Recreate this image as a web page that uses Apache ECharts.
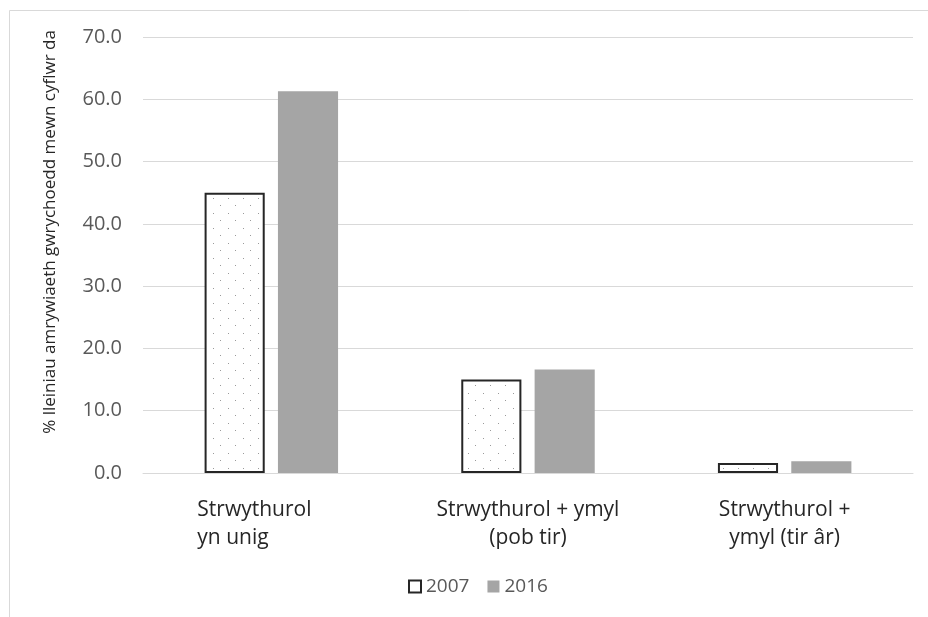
<!DOCTYPE html>
<html>
<head>
<meta charset="utf-8">
<script src="https://cdn.jsdelivr.net/npm/echarts@6/dist/echarts.min.js"></script>
<style>
  html, body { margin: 0; padding: 0; background: #fff; }
  #chart { width: 928px; height: 617px; }
</style>
</head>
<body>
<div id="chart"></div>
<script>
// Categories, series and axis setup
const categories = ['Strwythurol yn unig', 'Strwythurol + ymyl (pob tir)', 'Strwythurol + ymyl (tir âr)'];
const categoryLines = [
  ['Strwythurol', 'yn unig'],
  ['Strwythurol + ymyl', '(pob tir)'],
  ['Strwythurol +', 'ymyl (tir âr)']
];
const values2007 = [45.0, 15.0, 1.6];
const values2016 = [61.3, 16.6, 1.9];
const seriesNames = ['2007', '2016'];
const yTicks = { min: 0, max: 70, interval: 10 };
const yAxisTitle = '% lleiniau amrywiaeth gwrychoedd mewn cyflwr da';

// Dotted fill for the 2007 bars
function dotPattern() {
  const c = document.createElement('canvas');
  c.width = 15; c.height = 15;
  const ctx = c.getContext('2d');
  ctx.fillStyle = '#ffffff';
  ctx.fillRect(0, 0, 15, 15);
  ctx.fillStyle = '#9a9a9a';
  ctx.fillRect(3, 3, 1, 1);
  ctx.fillRect(10, 10, 1, 1);
  return c;
}

const chart = echarts.init(document.getElementById('chart'), null, { renderer: 'canvas' });
const font = "'Open Sans', 'Noto Sans', sans-serif";

chart.setOption({
  animation: false,
  backgroundColor: '#ffffff',
  textStyle: { fontFamily: font },
  graphic: [{
    type: 'rect',
    shape: { x: 9.5, y: 10.5, width: 940, height: 640 },
    style: { fill: 'none', stroke: '#d9d9d9', lineWidth: 1 },
    silent: true
  }],
  grid: { left: 143, right: 15, top: 37, bottom: 144 },
  legend: {
    top: 572,
    left: 403,
    itemWidth: 12,
    itemHeight: 12,
    itemGap: 18,
    textStyle: { color: '#595959', fontSize: 19, fontFamily: font },
    data: [
      { name: '2007', icon: 'rect', itemStyle: { color: '#ffffff', borderColor: '#262626', borderWidth: 2 } },
      { name: '2016', icon: 'rect', itemStyle: { color: '#a5a5a5' } }
    ]
  },
  xAxis: {
    type: 'category',
    data: categories,
    axisLine: { lineStyle: { color: '#d9d9d9' } },
    axisTick: { show: false },
    axisLabel: {
      margin: 23,
      interval: 0,
      formatter: function (v, i) {
        const l = categoryLines[i];
        if (i === 0) return '{l|' + l[0] + '}\n{l|' + l[1] + '}';
        return '{c|' + l[0] + '}\n{c|' + l[1] + '}';
      },
      rich: {
        l: { width: 148, align: 'left', fontSize: 21, lineHeight: 28, color: '#262626', fontFamily: font },
        c: { align: 'center', fontSize: 21, lineHeight: 28, color: '#262626', fontFamily: font }
      }
    }
  },
  yAxis: {
    type: 'value',
    min: yTicks.min,
    max: yTicks.max,
    interval: yTicks.interval,
    name: yAxisTitle,
    nameLocation: 'middle',
    nameGap: 84,
    nameTextStyle: { color: '#262626', fontSize: 17, fontFamily: font, padding: [0, 0, 0, 46] },
    axisLine: { show: false },
    axisTick: { show: false },
    splitLine: { lineStyle: { color: '#d9d9d9', width: 1 } },
    axisLabel: {
      margin: 21,
      color: '#595959',
      fontSize: 20,
      fontFamily: font,
      formatter: v => v.toFixed(1)
    }
  },
  series: [
    {
      name: seriesNames[0],
      type: 'bar',
      data: values2007,
      barGap: '22%',
      barCategoryGap: '48%',
      itemStyle: {
        color: { image: dotPattern(), repeat: 'repeat' },
        borderColor: '#262626',
        borderWidth: 2
      }
    },
    {
      name: seriesNames[1],
      type: 'bar',
      data: values2016,
      itemStyle: { color: '#a5a5a5' }
    }
  ]
});
</script>
</body>
</html>
